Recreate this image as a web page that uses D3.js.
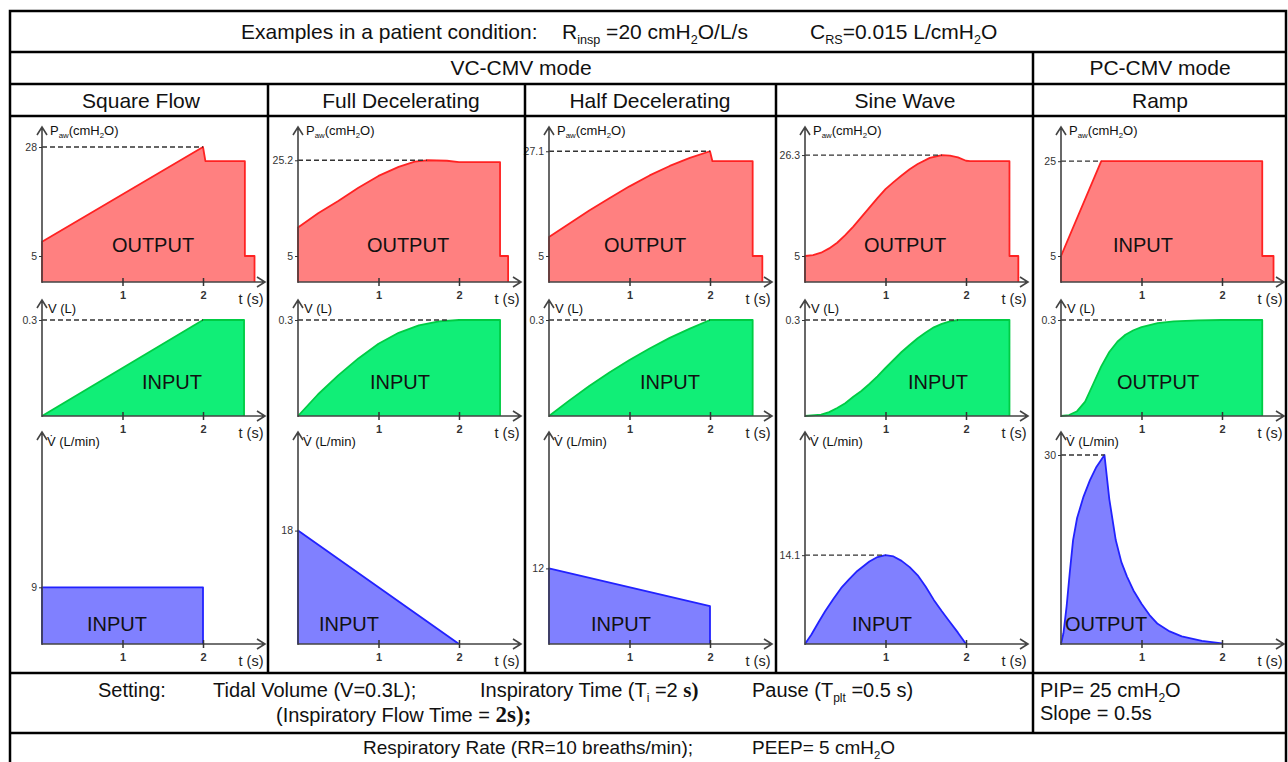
<!DOCTYPE html>
<html lang="en">
<head>
<meta charset="UTF-8">
<title>Ventilation waveforms</title>
<script src="https://cdn.jsdelivr.net/npm/d3@7"></script>
<style>
  body { margin: 0; background: #fff; }
  svg text { font-family: "Liberation Sans", Arial, sans-serif; }
</style>
</head>
<body>
<div id="chart"></div>
<script>
// column titles and which signal is set vs. measured
var modes = ["Square Flow", "Full Decelerating", "Half Decelerating", "Sine Wave", "Ramp"];
var roles = [
  ["OUTPUT", "INPUT", "INPUT"],
  ["OUTPUT", "INPUT", "INPUT"],
  ["OUTPUT", "INPUT", "INPUT"],
  ["OUTPUT", "INPUT", "INPUT"],
  ["INPUT", "OUTPUT", "OUTPUT"]
];

// tick labels on the y axes
var pressureTicks = [28, 25.2, 27.1, 26.3, 25];
var volumeTick = 0.3;
var flowTicks = [9, 18, 12, 14.1, 30];

// time (s) where the dashed reference line meets the curve
var pressurePeakT = [2, 1.6, 2, 1.7, 0.5];
var volumePeakT = [2, 1.85, 2, 1.9, 1.3];
var flowPeakT = [null, null, null, 1, 0.54];

// airway pressure, cmH2O  [t, P]
var pressureData = [
  [[0,0],[0,8],[2,28],[2.03,25],[2.52,25],[2.52,5],[2.64,5],[2.64,0]],
  [[0,0],[0,11],[0.25,14],[0.5,16.6],[0.75,19.4],[1,21.9],[1.25,23.8],[1.45,24.9],[1.6,25.2],[1.85,25.1],[2,24.8],[2.51,24.8],[2.51,5],[2.61,5],[2.61,0]],
  [[0,0],[0,9],[0.25,11.8],[0.5,14.6],[0.75,17.2],[1,19.7],[1.25,22],[1.5,24],[1.75,25.7],[2,27.1],[2.03,25],[2.53,25],[2.53,5],[2.65,5],[2.65,0]],
  [[0,0],[0,5],[0.1,5.2],[0.2,5.7],[0.3,6.6],[0.4,7.8],[0.5,9.4],[0.6,11.2],[0.7,13.2],[0.8,15.2],[0.9,17.2],[1,19.1],[1.1,20.6],[1.2,22],[1.3,23.3],[1.4,24.4],[1.55,25.7],[1.7,26.3],[1.8,26.2],[1.9,25.8],[2,25.1],[2.05,25],[2.54,25],[2.54,5],[2.65,5],[2.65,0]],
  [[0,0],[0,5],[0.5,25],[2.5,25],[2.5,5],[2.64,5],[2.64,0]]
];

// volume, L  [t, V]
var volumeData = [
  [[0,0],[2,0.3],[2.51,0.3],[2.51,0]],
  [[0,0],[0.25,0.068],[0.5,0.127],[0.75,0.18],[1,0.226],[1.25,0.26],[1.5,0.283],[1.75,0.296],[2,0.3],[2.51,0.3],[2.51,0]],
  [[0,0],[0.25,0.048],[0.5,0.094],[0.75,0.136],[1,0.175],[1.25,0.211],[1.5,0.244],[1.75,0.273],[2,0.3],[2.53,0.3],[2.53,0]],
  [[0,0],[0.2,0.004],[0.3,0.012],[0.4,0.025],[0.5,0.04],[0.6,0.06],[0.7,0.078],[0.8,0.1],[0.9,0.124],[1,0.15],[1.1,0.175],[1.2,0.2],[1.3,0.222],[1.4,0.243],[1.5,0.261],[1.6,0.277],[1.7,0.288],[1.8,0.296],[1.9,0.3],[2.54,0.3],[2.54,0]],
  [[0,0],[0.1,0.003],[0.2,0.015],[0.3,0.045],[0.4,0.1],[0.5,0.155],[0.6,0.2],[0.7,0.232],[0.8,0.254],[0.9,0.268],[1,0.278],[1.2,0.29],[1.4,0.296],[1.7,0.299],[2,0.3],[2.5,0.3],[2.5,0]]
];

// flow, L/min  [t, Q]
var flowData = [
  [[0,0],[0,9],[2,9],[2,0]],
  [[0,0],[0,18],[2,0]],
  [[0,0],[0,12],[2,6],[2,0]],
  [[0,0],[0.08,1.5],[0.17,3.5],[0.25,5.2],[0.35,7.1],[0.45,8.9],[0.55,10.3],[0.65,11.6],[0.8,13.1],[0.9,13.8],[1,14.1],[1.1,13.9],[1.2,13.2],[1.3,12.2],[1.4,10.9],[1.5,9.1],[1.6,7],[1.7,5.2],[1.8,3.5],[1.9,1.8],[2,0]],
  [[0,0],[0.03,1.7],[0.07,6],[0.11,11.5],[0.15,16.5],[0.2,20],[0.28,23.4],[0.36,26],[0.44,28.1],[0.54,30],[0.6,23],[0.68,16.5],[0.75,13],[0.82,10.7],[0.9,8.5],[1,6.4],[1.1,4.6],[1.2,3.2],[1.35,2],[1.5,1.2],[1.75,0.5],[2,0.1],[2,0]]
];

var W = 1288, H = 762;
var svg = d3.select("#chart").append("svg").attr("width", W).attr("height", H);

// table layout
var left = 10, right = 1286;
var rowY = [11, 52, 84, 116, 673, 733, 790];
var colX = [268, 525, 776, 1033];
var axisX = [42, 298, 549, 805, 1061];

var ink = "#111";

function richText(parent, x, y, parts, size, anchor) {
  var t = parent.append("text")
    .attr("x", x).attr("y", y)
    .attr("font-size", size)
    .attr("text-anchor", anchor || "start")
    .attr("fill", ink);
  var shift = 0;
  parts.forEach(function(p) {
    var s = t.append("tspan").text(p.t);
    var target = p.sub ? size * 0.25 : 0;
    if (target !== shift) { s.attr("dy", target - shift); shift = target; }
    if (p.sub) s.attr("font-size", size * 0.6);
    if (p.serif) {
      s.attr("font-family", "'Liberation Serif', 'Times New Roman', serif")
       .attr("font-weight", "bold")
       .attr("font-size", p.size || size);
    }
  });
  return t;
}

// ---- panels ----
var panelDefs = [
  { key: "p", base: 282, top: 127, fill: "#ff8080", stroke: "#ff2222", labelY: 245 },
  { key: "v", base: 416, top: 300, fill: "#11ee77", stroke: "#00cc44", labelY: 382 },
  { key: "f", base: 644, top: 432, fill: "#8080ff", stroke: "#2222ff", labelY: 624 }
];
var labelOffset = [
  [111, 130, 75],
  [110, 102, 51],
  [96, 121, 72],
  [100, 133, 77],
  [82, 97, 45]
];

modes.forEach(function(mode, i) {
  var ax = axisX[i];
  var x = d3.scaleLinear().domain([0, 2]).range([ax, ax + 161]);
  var py = d3.scaleLinear().domain([0, 5, 28]).range([282, 256, 147]);
  var vy = d3.scaleLinear().domain([0, 0.3]).range([416, 320]);
  var fy = d3.scaleLinear().domain([0, 30]).range([644, 455]);

  var sets = [
    { y: py, data: pressureData[i], ticks: [5, pressureTicks[i]], peak: pressureTicks[i], peakT: pressurePeakT[i] },
    { y: vy, data: volumeData[i], ticks: [volumeTick], peak: volumeTick, peakT: volumePeakT[i] },
    { y: fy, data: flowData[i], ticks: [flowTicks[i]], peak: flowTicks[i], peakT: flowPeakT[i] }
  ];

  sets.forEach(function(s, k) {
    var def = panelDefs[k];
    var g = svg.append("g");

    var area = d3.area()
      .x(function(d) { return x(d[0]); })
      .y0(s.y(0))
      .y1(function(d) { return s.y(d[1]); });
    var line = d3.line()
      .x(function(d) { return x(d[0]); })
      .y(function(d) { return s.y(d[1]); });

    g.append("path").datum(s.data).attr("d", area).attr("fill", def.fill);
    g.append("path").datum(s.data).attr("d", line)
      .attr("fill", "none").attr("stroke", def.stroke).attr("stroke-width", 1.8)
      .attr("stroke-linejoin", "round");

    // dashed reference to the peak
    if (s.peakT !== null) {
      g.append("line")
        .attr("x1", ax).attr("x2", x(s.peakT))
        .attr("y1", s.y(s.peak)).attr("y2", s.y(s.peak))
        .attr("stroke", "#333").attr("stroke-width", 1.3)
        .attr("stroke-dasharray", "5,3");
    }

    // axes with arrow heads
    var end = ax + 223;
    g.append("path")
      .attr("d", "M" + ax + "," + def.base + "L" + end + "," + def.base +
                 "M" + (end - 8) + "," + (def.base - 5) + "L" + end + "," + def.base + "L" + (end - 8) + "," + (def.base + 5))
      .attr("fill", "none").attr("stroke", "#444").attr("stroke-width", 1.6);
    g.append("path")
      .attr("d", "M" + ax + "," + (def.base + 1) + "L" + ax + "," + def.top +
                 "M" + (ax - 5) + "," + (def.top + 8) + "L" + ax + "," + def.top + "L" + (ax + 5) + "," + (def.top + 8))
      .attr("fill", "none").attr("stroke", "#444").attr("stroke-width", 1.6);

    var xa = g.append("g")
      .attr("transform", "translate(0," + def.base + ")")
      .call(d3.axisBottom(x).tickValues([1, 2]).tickSize(4).tickPadding(5).tickFormat(d3.format("d")));
    xa.select(".domain").remove();
    xa.selectAll(".tick line").attr("y1", -4).attr("stroke", "#333").attr("stroke-width", 1.5);
    xa.selectAll(".tick text").attr("font-size", 11).attr("font-weight", "bold")
      .attr("fill", "#333").attr("font-family", "'Liberation Sans', Arial, sans-serif");

    var ya = g.append("g")
      .attr("transform", "translate(" + ax + ",0)")
      .call(d3.axisLeft(s.y).tickValues(s.ticks).tickSize(3).tickPadding(2).tickFormat(function(d) { return String(d); }));
    ya.select(".domain").remove();
    ya.selectAll(".tick line").attr("stroke", "#333");
    ya.selectAll(".tick text").attr("font-size", 10.5).attr("fill", "#333")
      .attr("font-family", "'Liberation Sans', Arial, sans-serif");

    g.append("text")
      .attr("x", ax + 209).attr("y", def.base + 22)
      .attr("text-anchor", "middle").attr("font-size", 14.5).attr("fill", "#222")
      .text("t (s)");

    // axis name
    if (k === 0) {
      richText(g, ax + 8, def.top + 8, [{t: "P"}, {t: "aw", sub: true}, {t: "(cmH"}, {t: "2", sub: true}, {t: "O)"}], 13);
    } else if (k === 1) {
      richText(g, ax + 6, def.top + 13, [{t: "V (L)"}], 13);
    } else {
      richText(g, ax + 5, def.top + 14, [{t: "V\u0307 (L/min)"}], 13);
    }

    g.append("text")
      .attr("x", ax + labelOffset[i][k]).attr("y", def.labelY + 7)
      .attr("text-anchor", "middle").attr("font-size", 20).attr("fill", ink)
      .text(roles[i][k]);
  });
});

// ---- table grid ----
var grid = svg.append("g").attr("stroke", "#000").attr("stroke-width", 2.5).attr("fill", "none");
grid.append("rect").attr("x", left).attr("y", rowY[0]).attr("width", right - left).attr("height", rowY[6] - rowY[0]);
rowY.slice(1, 6).forEach(function(y) {
  grid.append("line").attr("x1", left).attr("x2", right).attr("y1", y).attr("y2", y);
});
grid.append("line").attr("x1", colX[3]).attr("x2", colX[3]).attr("y1", rowY[1]).attr("y2", rowY[5]);
colX.slice(0, 3).forEach(function(x) {
  grid.append("line").attr("x1", x).attr("x2", x).attr("y1", rowY[2]).attr("y2", rowY[4]);
});

// ---- header and footer text ----
var txt = svg.append("g");
richText(txt, 241, 39, [{t: "Examples in a patient condition:"}], 21);
richText(txt, 562, 39, [{t: "R"}, {t: "insp", sub: true}, {t: " =20 cmH"}, {t: "2", sub: true}, {t: "O/L/s"}], 21);
richText(txt, 810, 39, [{t: "C"}, {t: "RS", sub: true}, {t: "=0.015 L/cmH"}, {t: "2", sub: true}, {t: "O"}], 21);

richText(txt, 521, 75, [{t: "VC-CMV mode"}], 21, "middle");
richText(txt, 1160, 75, [{t: "PC-CMV mode"}], 21, "middle");

var titleX = [141, 401, 650, 905, 1160];
modes.forEach(function(m, i) {
  richText(txt, titleX[i], 108, [{t: m}], 21, "middle");
});

richText(txt, 98, 697, [{t: "Setting:"}], 20);
richText(txt, 213, 697, [{t: "Tidal Volume (V=0.3L);"}], 20);
richText(txt, 480, 697, [{t: "Inspiratory Time (T"}, {t: "i", sub: true}, {t: " =2 "}, {t: "s)", serif: true, size: 21}], 20);
richText(txt, 752, 697, [{t: "Pause (T"}, {t: "plt", sub: true}, {t: " =0.5 s)"}], 20);
richText(txt, 276, 722, [{t: "(Inspiratory Flow Time = "}, {t: "2s);", serif: true, size: 23}], 20);

richText(txt, 1040, 697, [{t: "PIP= 25 cmH"}, {t: "2", sub: true}, {t: "O"}], 20);
richText(txt, 1040, 720, [{t: "Slope = 0.5s"}], 20);

richText(txt, 363, 754, [{t: "Respiratory Rate (RR=10 breaths/min);"}], 19);
richText(txt, 752, 754, [{t: "PEEP= 5 cmH"}, {t: "2", sub: true}, {t: "O"}], 19);
</script>
</body>
</html>
